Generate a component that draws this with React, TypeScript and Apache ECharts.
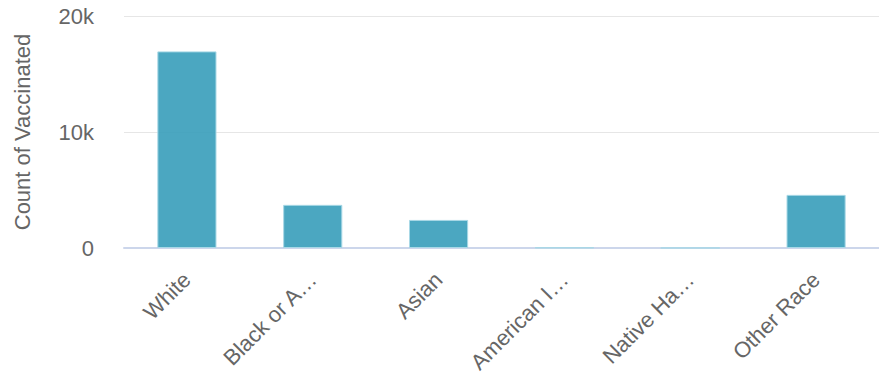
import React, { useEffect, useRef } from "react";
import * as echarts from "echarts";

const categories = [
  "White",
  "Black or African American",
  "Asian",
  "American Indian or Alaska Native",
  "Native Hawaiian or Other Pacific Islander",
  "Other Race",
];
const vaccinated = [16950, 3720, 2420, 40, 10, 4580];
const yTicks = { min: 0, max: 20000, interval: 10000 };

const FONT = "'Liberation Sans', Arial, sans-serif";
const LABEL_SIZE = 22;
const LABEL_MAX = 128;

let measureCtx: CanvasRenderingContext2D | null = null;
function textWidth(s: string): number {
  if (!measureCtx) {
    measureCtx = document.createElement("canvas").getContext("2d");
  }
  if (!measureCtx) return s.length * LABEL_SIZE * 0.55;
  measureCtx.font = `${LABEL_SIZE}px ${FONT}`;
  return measureCtx.measureText(s).width;
}
function fitLabel(s: string): string {
  if (textWidth(s) <= LABEL_MAX) return s;
  for (let n = s.length - 1; n > 0; n--) {
    const cut = s.slice(0, n).replace(/\s+$/, "") + "…";
    if (textWidth(cut) <= LABEL_MAX) return cut;
  }
  return "…";
}

export default function App() {
  const ref = useRef<HTMLDivElement>(null);
  useEffect(() => {
    const chart = echarts.init(ref.current!, null, { renderer: "svg" });
    chart.setOption({
      animation: false,
      grid: { left: 124, right: 0, top: 16, bottom: 132 },
      xAxis: {
        type: "category",
        data: categories,
        axisLine: { show: true, lineStyle: { color: "#ccd6eb", width: 2 } },
        axisTick: { show: false },
        axisLabel: {
          rotate: 45,
          margin: 28,
          color: "#666",
          fontSize: LABEL_SIZE,
          fontFamily: FONT,
          interval: 0,
          formatter: (v: string) => fitLabel(v),
        },
      },
      yAxis: {
        type: "value",
        min: yTicks.min,
        max: yTicks.max,
        interval: yTicks.interval,
        name: "Count of Vaccinated",
        nameLocation: "middle",
        nameGap: 91,
        nameTextStyle: { color: "#666", fontSize: 22, fontFamily: FONT },
        axisLine: { show: false },
        axisTick: { show: false },
        splitLine: { lineStyle: { color: "#e6e6e6", width: 1 } },
        axisLabel: {
          color: "#666",
          fontSize: 22,
          fontFamily: FONT,
          margin: 30,
          formatter: (v: number) => (v === 0 ? "0" : v / 1000 + "k"),
        },
      },
      series: [
        {
          type: "bar",
          data: vaccinated,
          barWidth: "47%",
          itemStyle: {
            color: "rgba(60,160,188,0.92)",
            borderColor: "#a8d8e6",
            borderWidth: 1,
          },
        },
      ],
    });
    return () => chart.dispose();
  }, []);
  return <div ref={ref} style={{ width: 879, height: 380, position: "absolute", left: 0, top: 0 }} />;
}
